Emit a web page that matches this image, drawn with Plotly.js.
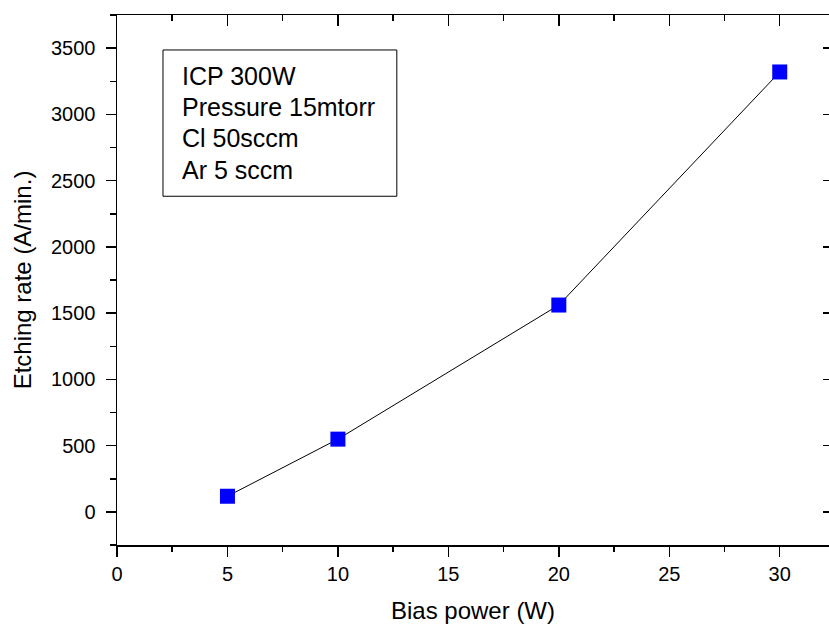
<!DOCTYPE html>
<html>
<head>
<meta charset="utf-8">
<script src="https://cdn.plot.ly/plotly-3.0.1.min.js"></script>
<style>html,body{margin:0;padding:0;background:#fff;}</style>
</head>
<body>
<div id="chart" style="width:829px;height:627px;"></div>
<script>
const biasPower = [5, 10, 20, 30];
const etchRate = [118, 549, 1561, 3320];
const xTicks = [0, 5, 10, 15, 20, 25, 30];
const yTicks = [0, 500, 1000, 1500, 2000, 2500, 3000, 3500];
const boxLines = ["ICP 300W", "Pressure 15mtorr", "Cl 50sccm", "Ar 5 sccm"];

const FONT = "Liberation Sans, Arial, sans-serif";

const traces = [
  {
    x: biasPower, y: etchRate, type: "scatter", mode: "lines+markers",
    line: {color: "#000", width: 1},
    marker: {symbol: "square", size: 15, color: "#0000FF", line: {width: 0}},
    hoverinfo: "x+y", showlegend: false
  },
  {
    x: biasPower, y: etchRate, type: "scatter", mode: "lines",
    xaxis: "x2", yaxis: "y2", line: {width: 0}, opacity: 0,
    hoverinfo: "skip", showlegend: false
  }
];

const xr = [0, 32.23];
const yr = [-250, 3750];
const lineYs = [0.8858, 0.8264, 0.7670, 0.7075];

const layout = {
  width: 829, height: 627,
  margin: {l: 117, r: 0, t: 15, b: 82},
  paper_bgcolor: "#fff", plot_bgcolor: "#fff",
  font: {family: FONT, color: "#000", size: 20},
  showlegend: false,
  xaxis: {
    range: xr, tickvals: xTicks, ticktext: xTicks.map(String),
    ticks: "outside", ticklen: 10, tickwidth: 1.5, tickcolor: "#000",
    showline: true, linewidth: 1.5, linecolor: "#000",
    showgrid: false, zeroline: false,
    tickfont: {size: 20, family: FONT},
    minor: {dtick: 2.5, tick0: 0, ticks: "outside", ticklen: 5, tickwidth: 1.5, tickcolor: "#000", showgrid: false},
    title: {text: "Bias power (W)", font: {size: 24, family: FONT}, standoff: 18}
  },
  yaxis: {
    range: yr, tickvals: yTicks, ticktext: yTicks.map(String),
    ticks: "outside", ticklen: 10, tickwidth: 1.5, tickcolor: "#000",
    showline: true, linewidth: 1.5, linecolor: "#000",
    showgrid: false, zeroline: false,
    tickfont: {size: 20, family: FONT},
    ticklabelstandoff: 6,
    minor: {dtick: 250, tick0: 0, ticks: "outside", ticklen: 6, tickwidth: 1.5, tickcolor: "#000", showgrid: false},
    title: {text: "Etching rate (A/min.)", font: {size: 24, family: FONT}, standoff: 12}
  },
  xaxis2: {
    overlaying: "x", side: "top", range: xr, tickvals: xTicks,
    showticklabels: false, ticks: "inside", ticklen: 11, tickwidth: 1.5, tickcolor: "#000",
    showline: true, linewidth: 1.5, linecolor: "#000",
    showgrid: false, zeroline: false,
    minor: {dtick: 2.5, tick0: 0, ticks: "inside", ticklen: 6, tickwidth: 1.5, tickcolor: "#000", showgrid: false}
  },
  yaxis2: {
    overlaying: "y", side: "right", range: yr, tickvals: yTicks,
    showticklabels: false, ticks: "inside", ticklen: 6, tickwidth: 1.5, tickcolor: "#000",
    showline: false, showgrid: false, zeroline: false
  },
  shapes: [
    {type: "rect", xref: "paper", yref: "paper", x0: 0.0646, x1: 0.393, y0: 0.658, y1: 0.934,
     line: {color: "#000", width: 1}, fillcolor: "rgba(0,0,0,0)"}
  ],
  annotations: boxLines.map((t, i) => ({
    text: t, xref: "paper", yref: "paper", x: 0.089, y: lineYs[i],
    xanchor: "left", yanchor: "middle", showarrow: false,
    font: {size: 25, family: FONT, color: "#000"}
  }))
};

Plotly.newPlot("chart", traces, layout, {displayModeBar: false, staticPlot: true});
</script>
</body>
</html>
